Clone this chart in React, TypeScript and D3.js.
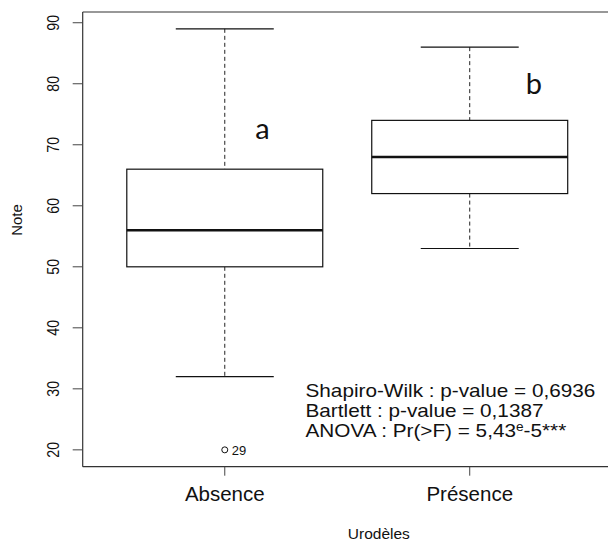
import React from "react";
import * as d3 from "d3";

const categories = ["Absence", "Présence"];
const whiskerLow = [32, 53];
const q1 = [50, 62];
const medians = [56, 68];
const q3 = [66, 74];
const whiskerHigh = [89, 86];
const outliers = [{ group: 0, value: 20, label: "29" }];
const yTicks = [20, 30, 40, 50, 60, 70, 80, 90];
const letters = [
  { text: "a", x: 1.154, y: 70.9 },
  { text: "b", x: 2.262, y: 78.3 },
];
const statLines = [
  "Shapiro-Wilk : p-value = 0,6936",
  "Bartlett : p-value = 0,1387",
];
const anovaParts = { pre: "ANOVA : Pr(>F) = 5,43", sup: "e", post: "-5***" };
const xTitle = "Urodèles";
const yTitle = "Note";

const W = 608;
const H = 543;
const FONT = "'Liberation Sans', Arial, sans-serif";

export default function App() {
  const x = d3.scaleLinear().domain([0.42, 2.58]).range([82.7, 611.8]);
  const y = d3.scaleLinear().domain([17.24, 91.76]).range([466.7, 12]);
  const left = x(0.42);
  const top = y(91.76);
  const bottom = y(17.24);
  const boxHalf = x(1.4) - x(1);
  const capHalf = x(1.2) - x(1);
  const statX = 305.5;
  const statY = [396.7, 417.1, 437.4];
  const statSize = 18.2;
  const stretch = 1.14;

  return (
    <svg
      width={W}
      height={H}
      style={{ position: "absolute", left: 0, top: 0, background: "#fff" }}
      fontFamily={FONT}
    >
      <rect x={0} y={0} width={W} height={H} fill="#fff" />
      {/* frame */}
      <line x1={left} x2={W + 10} y1={top} y2={top} stroke="#333" strokeWidth={1.2} />
      <line x1={left} x2={W + 10} y1={bottom} y2={bottom} stroke="#333" strokeWidth={1.2} />
      <line x1={left} x2={left} y1={top} y2={bottom} stroke="#333" strokeWidth={1.2} />

      {/* y axis ticks */}
      {yTicks.map((t) => (
        <g key={t}>
          <line x1={left - 10} x2={left} y1={y(t)} y2={y(t)} stroke="#444" strokeWidth={1} />
          <text
            transform={`translate(${left - 24},${y(t)}) rotate(-90) scale(0.95,1.08)`}
            textAnchor="middle"
            fontSize={15}
            fill="#111"
          >
            {t}
          </text>
        </g>
      ))}

      {/* x axis ticks */}
      {categories.map((c, i) => (
        <g key={c}>
          <line x1={x(i + 1)} x2={x(i + 1)} y1={bottom} y2={bottom + 9} stroke="#444" strokeWidth={1} />
          <text x={x(i + 1)} y={500.5} textAnchor="middle" fontSize={20.5} fill="#111">
            {c}
          </text>
        </g>
      ))}

      {/* boxes */}
      {categories.map((c, i) => {
        const cx = x(i + 1);
        return (
          <g key={"b" + c}>
            <line x1={cx} x2={cx} y1={y(whiskerHigh[i])} y2={y(q3[i])} stroke="#222" strokeWidth={1} strokeDasharray="4,3" />
            <line x1={cx} x2={cx} y1={y(q1[i])} y2={y(whiskerLow[i])} stroke="#222" strokeWidth={1} strokeDasharray="4,3" />
            <line x1={cx - capHalf} x2={cx + capHalf} y1={y(whiskerHigh[i])} y2={y(whiskerHigh[i])} stroke="#111" strokeWidth={1.2} />
            <line x1={cx - capHalf} x2={cx + capHalf} y1={y(whiskerLow[i])} y2={y(whiskerLow[i])} stroke="#111" strokeWidth={1.2} />
            <rect
              x={cx - boxHalf}
              y={y(q3[i])}
              width={2 * boxHalf}
              height={y(q1[i]) - y(q3[i])}
              fill="#fff"
              stroke="#111"
              strokeWidth={1.2}
            />
            <line x1={cx - boxHalf} x2={cx + boxHalf} y1={y(medians[i])} y2={y(medians[i])} stroke="#111" strokeWidth={2.6} />
          </g>
        );
      })}

      {/* outliers */}
      {outliers.map((o, k) => (
        <g key={"o" + k}>
          <circle cx={x(o.group + 1)} cy={y(o.value)} r={3} fill="none" stroke="#111" strokeWidth={1} />
          <text x={x(o.group + 1) + 7} y={y(o.value) + 5} fontSize={13} fill="#111">
            {o.label}
          </text>
        </g>
      ))}

      {/* letters */}
      {letters.map((l) => (
        <text key={l.text} x={x(l.x)} y={y(l.y)} textAnchor="middle" fontSize={29} fontFamily="Lato, 'Open Sans', sans-serif" fill="#111">
          {l.text}
        </text>
      ))}

      {/* stats */}
      {statLines.map((s, i) => (
        <text key={s} transform={`translate(${statX},${statY[i]}) scale(${stretch},1)`} fontSize={statSize} fill="#111">
          {s}
        </text>
      ))}
      <text transform={`translate(${statX},${statY[2]}) scale(${stretch},1)`} fontSize={statSize} fill="#111">
        {anovaParts.pre}
        <tspan fontSize={12} dy={-6.8}>{anovaParts.sup}</tspan>
        <tspan dy={6.8}>{anovaParts.post}</tspan>
      </text>

      {/* titles */}
      <text x={378.8} y={539} textAnchor="middle" fontSize={15.5} fill="#111">
        {xTitle}
      </text>
      <text transform={`translate(22,220) rotate(-90)`} textAnchor="middle" fontSize={15} fill="#111">
        {yTitle}
      </text>
    </svg>
  );
}
